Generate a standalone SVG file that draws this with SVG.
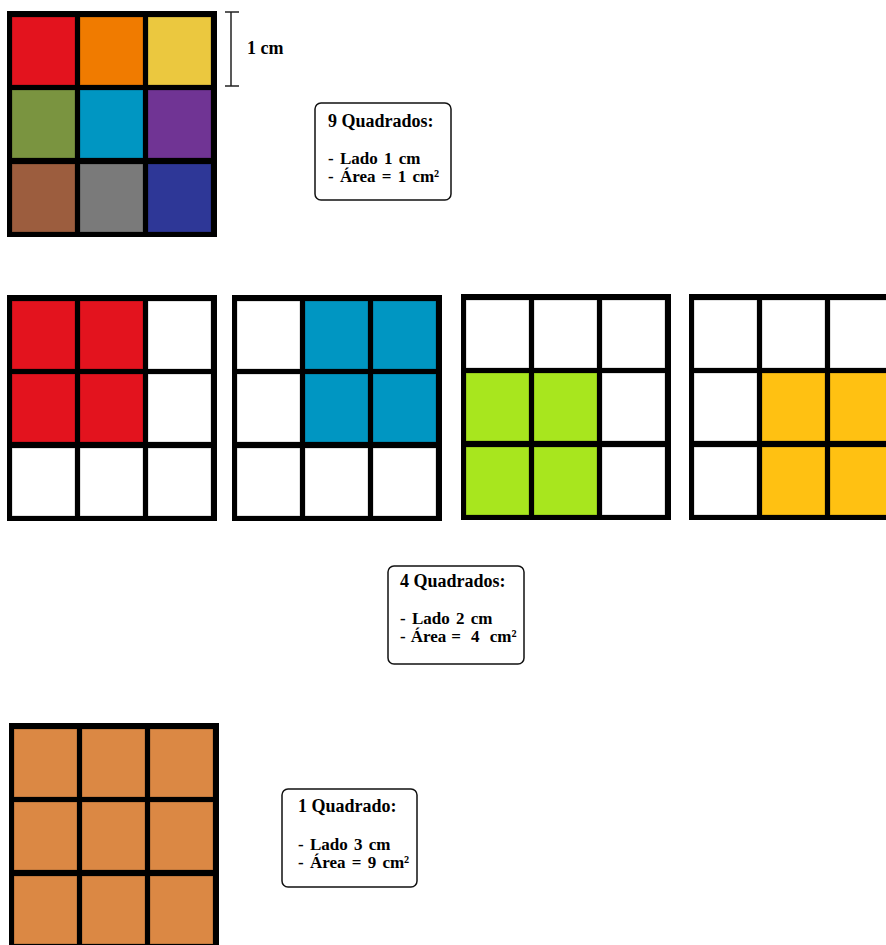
<svg xmlns="http://www.w3.org/2000/svg" width="886" height="945" viewBox="0 0 886 945">
<style>
.frame{fill:#000}
.c{stroke:rgba(0,0,0,0.3);stroke-width:0.8}
.w{fill:#fff}
.box{fill:#fff;stroke:#111;stroke-width:1.5}
.t{font-family:"Liberation Serif","Times New Roman",serif;font-weight:bold;font-size:18px;fill:#000}
.s{font-size:17px;word-spacing:2px}
.s2{font-size:17px;word-spacing:0.8px}
.dim{stroke:#222;stroke-width:1.5;fill:none}
</style>
<defs>
<g id="grid">
<rect class="frame" x="0" y="0" width="210" height="226"/>
</g>
</defs>
<rect width="886" height="945" fill="#fff"/>

<!-- Top grid: 9 squares -->
<g id="grid-top" transform="translate(7,11)">
<use href="#grid"/>
<rect class="c" x="5" y="6" width="63" height="68" fill="#E3131E"/>
<rect class="c" x="73" y="6" width="63" height="68" fill="#F07B00"/>
<rect class="c" x="141" y="6" width="63" height="68" fill="#EBC83F"/>
<rect class="c" x="5" y="79" width="63" height="68" fill="#7A9440"/>
<rect class="c" x="73" y="79" width="63" height="68" fill="#0096C2"/>
<rect class="c" x="141" y="79" width="63" height="68" fill="#703494"/>
<rect class="c" x="5" y="153" width="63" height="68" fill="#9C5D3E"/>
<rect class="c" x="73" y="153" width="63" height="68" fill="#7A7A7A"/>
<rect class="c" x="141" y="153" width="63" height="68" fill="#2E3797"/>
</g>

<g id="dimension">
<line class="dim" x1="231" y1="12" x2="231" y2="86"/>
<line class="dim" x1="225" y1="12" x2="239" y2="12"/>
<line class="dim" x1="225" y1="86" x2="239" y2="86"/>
<text class="t" x="247" y="54">1 cm</text>
</g>

<g id="label-9">
<rect class="box" x="315" y="103" width="136" height="97" rx="6"/>
<text class="t" x="328" y="127">9 Quadrados:</text>
<text class="t s" x="328" y="164" xml:space="preserve">- Lado 1 cm</text>
<text class="t s" x="328" y="182" xml:space="preserve">- Área = 1 cm²</text>
</g>

<!-- Row of 2x2 squares -->
<g id="grid-a" transform="translate(7,295)">
<use href="#grid"/>
<rect class="c" x="5" y="6" width="63" height="68" fill="#E3131E"/>
<rect class="c" x="73" y="6" width="63" height="68" fill="#E3131E"/>
<rect class="c w" x="141" y="6" width="63" height="68"/>
<rect class="c" x="5" y="79" width="63" height="68" fill="#E3131E"/>
<rect class="c" x="73" y="79" width="63" height="68" fill="#E3131E"/>
<rect class="c w" x="141" y="79" width="63" height="68"/>
<rect class="c w" x="5" y="153" width="63" height="68"/>
<rect class="c w" x="73" y="153" width="63" height="68"/>
<rect class="c w" x="141" y="153" width="63" height="68"/>
</g>

<g id="grid-b" transform="translate(232,295)">
<use href="#grid"/>
<rect class="c w" x="5" y="6" width="63" height="68"/>
<rect class="c" x="73" y="6" width="63" height="68" fill="#0096C2"/>
<rect class="c" x="141" y="6" width="63" height="68" fill="#0096C2"/>
<rect class="c w" x="5" y="79" width="63" height="68"/>
<rect class="c" x="73" y="79" width="63" height="68" fill="#0096C2"/>
<rect class="c" x="141" y="79" width="63" height="68" fill="#0096C2"/>
<rect class="c w" x="5" y="153" width="63" height="68"/>
<rect class="c w" x="73" y="153" width="63" height="68"/>
<rect class="c w" x="141" y="153" width="63" height="68"/>
</g>

<g id="grid-c" transform="translate(461,294)">
<use href="#grid"/>
<rect class="c w" x="5" y="6" width="63" height="68"/>
<rect class="c w" x="73" y="6" width="63" height="68"/>
<rect class="c w" x="141" y="6" width="63" height="68"/>
<rect class="c" x="5" y="79" width="63" height="68" fill="#A8E61E"/>
<rect class="c" x="73" y="79" width="63" height="68" fill="#A8E61E"/>
<rect class="c w" x="141" y="79" width="63" height="68"/>
<rect class="c" x="5" y="153" width="63" height="68" fill="#A8E61E"/>
<rect class="c" x="73" y="153" width="63" height="68" fill="#A8E61E"/>
<rect class="c w" x="141" y="153" width="63" height="68"/>
</g>

<g id="grid-d" transform="translate(689,294)">
<use href="#grid"/>
<rect class="c w" x="5" y="6" width="63" height="68"/>
<rect class="c w" x="73" y="6" width="63" height="68"/>
<rect class="c w" x="141" y="6" width="63" height="68"/>
<rect class="c w" x="5" y="79" width="63" height="68"/>
<rect class="c" x="73" y="79" width="63" height="68" fill="#FFC112"/>
<rect class="c" x="141" y="79" width="63" height="68" fill="#FFC112"/>
<rect class="c w" x="5" y="153" width="63" height="68"/>
<rect class="c" x="73" y="153" width="63" height="68" fill="#FFC112"/>
<rect class="c" x="141" y="153" width="63" height="68" fill="#FFC112"/>
</g>

<g id="label-4">
<rect class="box" x="388" y="566" width="136" height="98" rx="6"/>
<text class="t" x="400" y="587">4 Quadrados:</text>
<text class="t s" x="400" y="624" xml:space="preserve">- Lado 2 cm</text>
<text class="t s2" x="400" y="642" xml:space="preserve">- Área =  4  cm²</text>
</g>

<!-- Bottom: one 3x3 square -->
<g id="grid-big" transform="translate(9,723)">
<use href="#grid"/>
<rect class="c" x="5" y="6" width="63" height="68" fill="#DB8844"/>
<rect class="c" x="73" y="6" width="63" height="68" fill="#DB8844"/>
<rect class="c" x="141" y="6" width="63" height="68" fill="#DB8844"/>
<rect class="c" x="5" y="79" width="63" height="68" fill="#DB8844"/>
<rect class="c" x="73" y="79" width="63" height="68" fill="#DB8844"/>
<rect class="c" x="141" y="79" width="63" height="68" fill="#DB8844"/>
<rect class="c" x="5" y="153" width="63" height="68" fill="#DB8844"/>
<rect class="c" x="73" y="153" width="63" height="68" fill="#DB8844"/>
<rect class="c" x="141" y="153" width="63" height="68" fill="#DB8844"/>
</g>

<g id="label-1">
<rect class="box" x="282" y="789" width="135" height="98" rx="6"/>
<text class="t" x="298" y="812">1 Quadrado:</text>
<text class="t s" x="298" y="850" xml:space="preserve">- Lado 3 cm</text>
<text class="t s" x="298" y="868" xml:space="preserve">- Área = 9 cm²</text>
</g>
</svg>
